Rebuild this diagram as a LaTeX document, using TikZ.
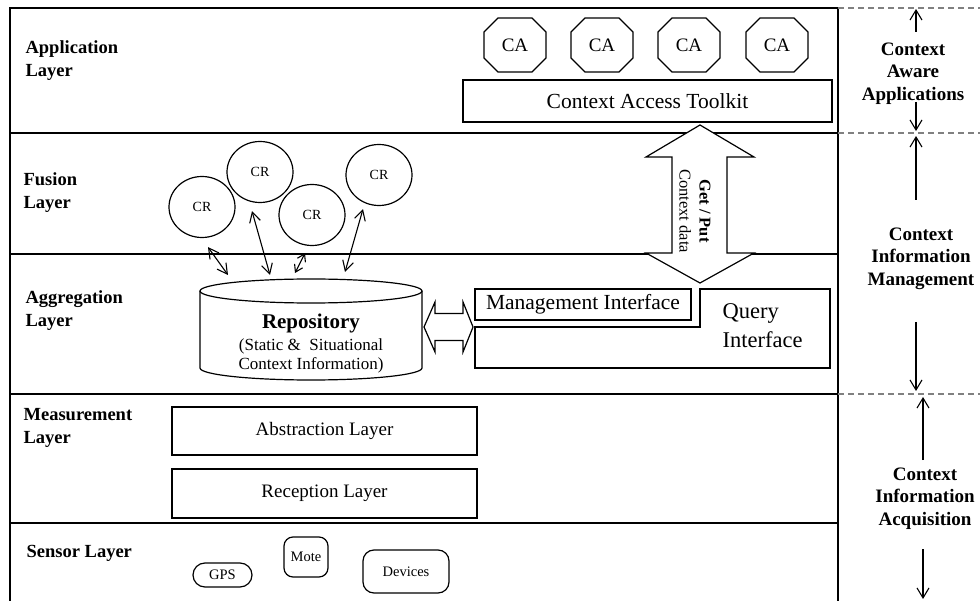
\documentclass[tikz,border=0pt]{standalone}
\usepackage{fontspec}
\setmainfont{Liberation Serif}
\usetikzlibrary{arrows.meta,calc,shapes.geometric}
\begin{document}
\begin{tikzpicture}[x=1pt,y=-1pt,line width=1.2pt,
  lay/.style={font=\fontsize{18.5}{23}\selectfont\bfseries,align=left,anchor=north west,inner sep=0pt},
  side/.style={font=\fontsize{19}{22.5}\selectfont\bfseries,align=center,anchor=north,inner sep=0pt},
  boxed/.style={draw,inner sep=0pt},
  catext/.style={font=\fontsize{19}{22}\selectfont,inner sep=0pt,minimum width=62pt,minimum height=54pt},
  crnode/.style={draw,ellipse,minimum width=66pt,minimum height=61pt,inner sep=0pt,font=\fontsize{14}{16}\selectfont},
  sens/.style={draw,inner sep=0pt,font=\fontsize{14.5}{17}\selectfont},
  barb/.style={{Straight Barb[length=10pt,width=11pt]}-{Straight Barb[length=10pt,width=11pt]},line width=1.1pt},
  smallbarb/.style={{Straight Barb[length=7pt,width=9pt]}-{Straight Barb[length=7pt,width=9pt]},line width=1.1pt},
  upar/.style={-{Straight Barb[length=10pt,width=12pt]},line width=1.1pt},
  grayDash/.style={draw=gray,dash pattern=on 6pt off 4pt,line width=1.1pt}
]
\useasboundingbox (0,0) rectangle (980,601);
% frame and layer lines
\draw (10,601) -- (10,8) -- (838,8) -- (838,601);
\foreach \y in {133,254,394,523} \draw (10,\y) -- (838,\y);
\foreach \y in {8,133,394} \draw[grayDash] (838,\y) -- (980,\y);

% right column
\node[side] (caa) at (913,42) {Context\\Aware\\Applications};
\draw[upar] (916,32) -- (916,9);
\draw[upar] (916,102) -- (916,131);
\node[side] (cim) at (921,227) {Context\\Information\\Management};
\draw[upar] (916,200) -- (916,136);
\draw[upar] (916,322) -- (916,391);
\node[side] (cia) at (925,467) {Context\\Information\\Acquisition};
\draw[upar] (923,460) -- (923,397);
\draw[upar] (923,549) -- (923,599);

% left labels
\node[lay] (lapp) at (25,40) {Application\\Layer};
\node[lay] (lfus) at (23,172) {Fusion\\Layer};
\node[lay] (lagg) at (25,290) {Aggregation\\Layer};
\node[lay] (lmea) at (23,408) {Measurement\\Layer};
\node[lay] (lsen) at (26,545) {Sensor Layer};

% application layer
\node[boxed,minimum width=369pt,minimum height=42pt,font=\fontsize{21.5}{24}\selectfont] (cat) at (647.5,101) {Context Access Toolkit};
\foreach \i/\x in {1/515,2/602,3/689,4/777} {
  \node[catext] (ca\i) at (\x,45) {CA};
  \draw ($(ca\i)+(-17,-27)$) -- ($(ca\i)+(17,-27)$) -- ($(ca\i)+(31,-13)$) -- ($(ca\i)+(31,13)$)
     -- ($(ca\i)+(17,27)$) -- ($(ca\i)+(-17,27)$) -- ($(ca\i)+(-31,13)$) -- ($(ca\i)+(-31,-13)$) -- cycle;
}

% get/put arrow
\draw[fill=white] (700,125) -- (754,157) -- (727,157) -- (727,253) -- (754,253) -- (700,283)
   -- (646,253) -- (672,253) -- (672,157) -- (646,157) -- cycle;
\node[rotate=-90,align=center,font=\fontsize{16.5}{20}\selectfont,inner sep=0pt] (gp) at (695,211) {\textbf{Get / Put}\\Context data};

% fusion layer
\node[crnode] (cr1) at (202,207) {CR};
\node[crnode] (cr2) at (260,172) {CR};
\node[crnode] (cr3) at (312,215) {CR};
\node[crnode] (cr4) at (379,175) {CR};

% repository
\coordinate (rtop) at (311,279);
\draw (311,291) ellipse[x radius=111pt, y radius=12pt];
\draw (200,291) -- (200,368) arc[start angle=180,end angle=360,x radius=111pt,y radius=12pt] -- (422,291);
\node[font=\fontsize{21}{24}\selectfont\bfseries,inner sep=0pt] (repo) at (311,323) {Repository};
\node[font=\fontsize{17}{19.5}\selectfont,align=center,inner sep=0pt] (repoinfo) at (311,356) {(Static \&\ \ Situational\\Context Information)};

\draw[barb] ($(cr1.south)+(6,9)$) -- ($(rtop)+(-83,-4)$);
\draw[barb] ($(cr2.south)+(-8,8)$) -- ($(rtop)+(-41,-4)$);
\draw[smallbarb] ($(cr3.south)+(-7,7)$) -- ($(rtop)+(-16,-6)$);
\draw[barb] ($(cr4.south)+(-16,3)$) -- ($(rtop)+(34,-7)$);

% interfaces
\node[boxed,minimum width=216pt,minimum height=31pt,font=\fontsize{21.5}{24}\selectfont] (mgmt) at (583,304.5) {Management Interface};
\coordinate (qa) at (475,327);
\draw (qa) -- (700,327) -- (700,289) -- (830,289) -- (830,368) -- (475,368) -- cycle;
\node[font=\fontsize{22.5}{29}\selectfont,align=left,anchor=north west,inner sep=0pt] (qi) at (722,303) {Query\\Interface};

% horizontal double arrow
\coordinate (hl) at (424,327);
\draw (hl) -- (435,302) -- (435,313.5) -- (463,313.5) -- (463,302) -- (473,327) -- (463,352)
   -- (463,340.5) -- (435,340.5) -- (435,352) -- cycle;

% measurement layer
\node[boxed,minimum width=305pt,minimum height=48pt,font=\fontsize{19}{23}\selectfont] (abs) at (324.5,431) {Abstraction Layer};
\node[boxed,minimum width=305pt,minimum height=49pt,font=\fontsize{19}{23}\selectfont] (rec) at (324.5,493.5) {Reception Layer};

% sensor layer
\node[sens,rounded corners=12pt,minimum width=59pt,minimum height=24pt] (gps) at (222.5,575) {GPS};
\node[sens,rounded corners=9pt,minimum width=44pt,minimum height=40pt] (mote) at (306,557) {Mote};
\node[sens,rounded corners=11pt,minimum width=86pt,minimum height=43pt] (dev) at (406,571.5) {Devices};
\end{tikzpicture}
\end{document}
